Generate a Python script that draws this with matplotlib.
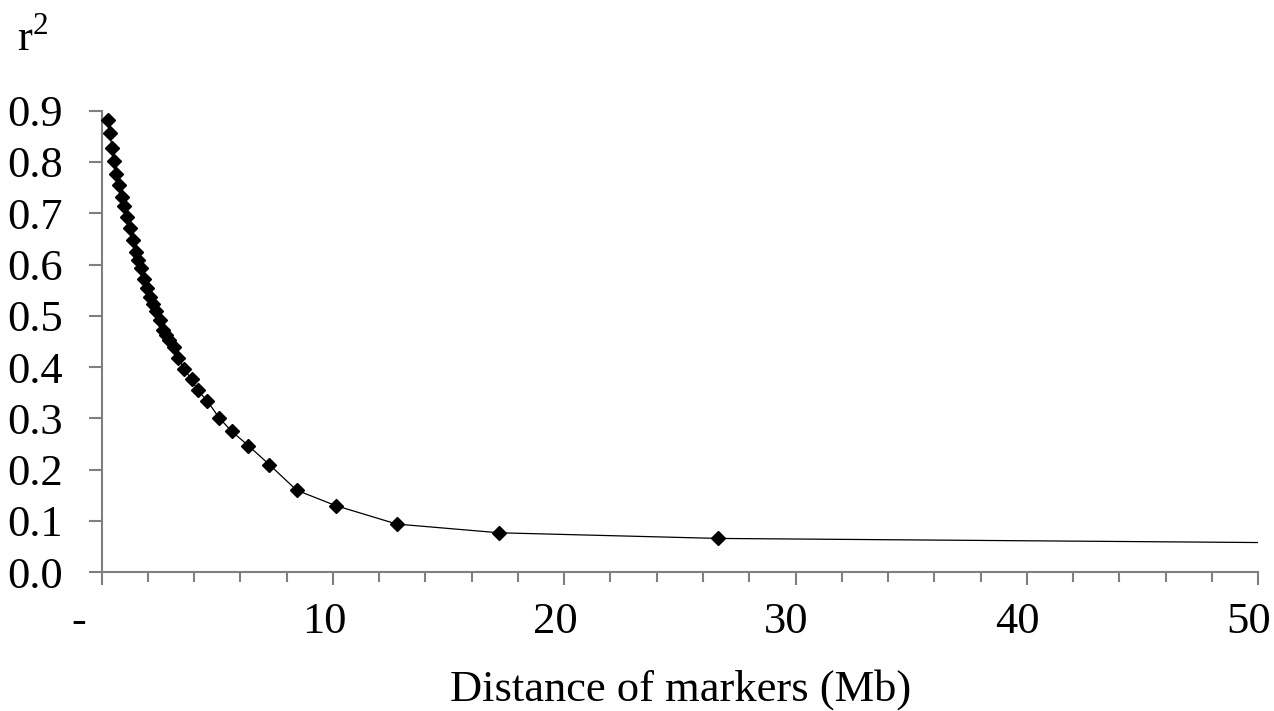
import matplotlib.pyplot as plt
from matplotlib.ticker import MultipleLocator, FixedLocator
from matplotlib.transforms import ScaledTranslation

plt.rcParams['font.family'] = ['Liberation Serif', 'DejaVu Serif']
plt.rcParams['mathtext.fontset'] = 'custom'
plt.rcParams['mathtext.rm'] = 'Liberation Serif'

# marker distance (Mb) and LD r2
dist = [0.27, 0.35, 0.45, 0.54, 0.64, 0.76, 0.86, 0.97, 1.08, 1.22,
        1.34, 1.47, 1.58, 1.68, 1.82, 1.97, 2.08, 2.23, 2.37, 2.52,
        2.66, 2.78, 2.93, 3.12, 3.31, 3.57, 3.89, 4.15, 4.57, 5.08,
        5.62, 6.34, 7.25, 8.43, 10.12, 12.76, 17.19, 26.67]
r2 = [0.882, 0.856, 0.828, 0.801, 0.777, 0.756, 0.731, 0.715, 0.692, 0.671,
      0.648, 0.625, 0.609, 0.593, 0.571, 0.554, 0.537, 0.523, 0.510, 0.492,
      0.472, 0.462, 0.452, 0.439, 0.418, 0.396, 0.376, 0.355, 0.334, 0.301,
      0.275, 0.247, 0.210, 0.160, 0.130, 0.094, 0.077, 0.066]

# the curve runs on to the edge of the axis without a marker
line_end_x = 50
line_end_y = 0.058

xticks = [0, 10, 20, 30, 40, 50]
xticklabels = ['-', '10', '20', '30', '40', '50']
yticks = [0.0, 0.1, 0.2, 0.3, 0.4, 0.5, 0.6, 0.7, 0.8, 0.9]

fs = 32
fig = plt.figure(figsize=(12.74, 7.11), dpi=100)
ax = fig.add_axes([0.0798, 0.1951, 0.9077, 0.6492])

ax.plot(dist + [line_end_x], r2 + [line_end_y], color='black', lw=0.9, zorder=2)
ax.plot(dist, r2, linestyle='none', marker='D', markersize=7.5,
        color='black', zorder=3, clip_on=False)

ax.set_xlim(0, 50)
ax.set_ylim(0, 0.9)

axis_grey = '#7f7f7f'
for side in ['top', 'right']:
    ax.spines[side].set_visible(False)
for side in ['left', 'bottom']:
    ax.spines[side].set_color(axis_grey)
    ax.spines[side].set_linewidth(1.5)

ax.xaxis.set_major_locator(FixedLocator(xticks))
ax.xaxis.set_minor_locator(MultipleLocator(2))
ax.set_xticklabels(xticklabels)
ax.set_yticks(yticks)
ax.set_yticklabels(['%.1f' % v for v in yticks])

ax.tick_params(axis='x', which='major', direction='out', length=9.4, width=1.5,
               color=axis_grey, labelsize=fs, pad=12)
ax.tick_params(axis='x', which='minor', direction='out', length=7.2, width=1.5,
               color=axis_grey)
ax.tick_params(axis='y', which='major', direction='out', length=9.2, width=1.5,
               color=axis_grey, labelsize=fs, pad=18.5)

# excel-style labels sit a little left of their ticks, the zero dash more so
for lab in ax.get_xticklabels():
    shift = -23 if lab.get_text() == '-' else -9
    lab.set_transform(lab.get_transform() + ScaledTranslation(shift / 100, 0, fig.dpi_scale_trans))

fig.text(0.5345, 1 - 701 / 711, 'Distance of markers (Mb)', fontsize=fs,
         ha='center', va='baseline')
fig.text(0.013, 1 - 51 / 711, r'$\mathrm{r}^{2}$', fontsize=fs,
         ha='left', va='baseline')

fig.savefig('out.png', dpi=100, facecolor='white')
